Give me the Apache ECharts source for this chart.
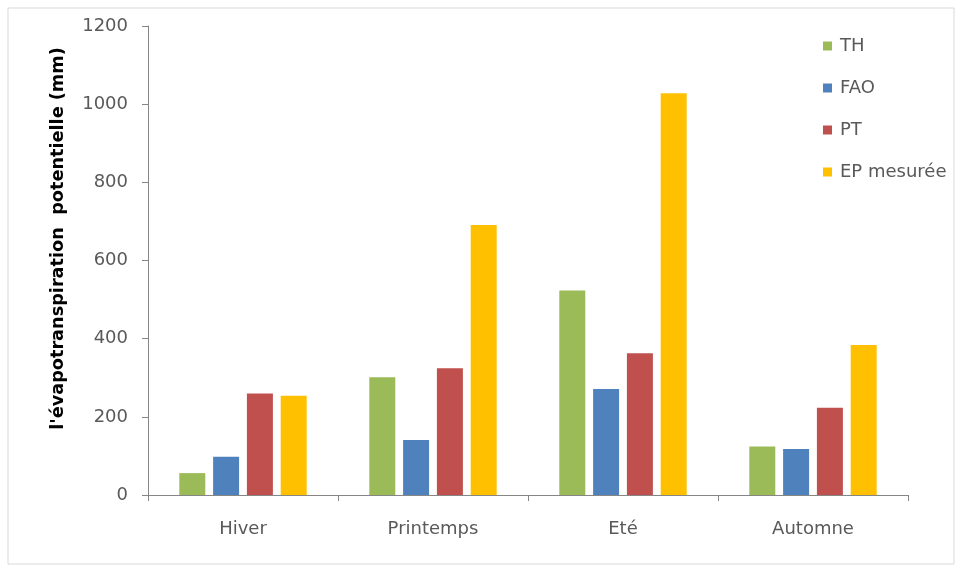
<!DOCTYPE html>
<html>
<head>
<meta charset="utf-8">
<script src="https://cdn.jsdelivr.net/npm/echarts@6/dist/echarts.min.js"></script>
<style>
  html, body { margin: 0; padding: 0; background: #fff; }
  #chart { width: 963px; height: 581px; }
</style>
</head>
<body>
<div id="chart"></div>
<script>
const seasons = ['Hiver', 'Printemps', 'Eté', 'Automne'];
const th = [56, 301, 523, 124];
const fao = [98, 141, 271, 118];
const pt = [260, 324, 363, 223];
const epMesuree = [254, 691, 1028, 384];

const font = '"DejaVu Sans", sans-serif';
const chart = echarts.init(document.getElementById('chart'));

const bar = (name, data, color) => ({
  name: name,
  type: 'bar',
  data: data,
  barWidth: 26,
  barGap: '30%',
  itemStyle: { color: color },
});

chart.setOption({
  animation: false,
  textStyle: { fontFamily: font },
  graphic: [
    {
      type: 'rect',
      shape: { x: 8, y: 8, width: 946, height: 556 },
      style: { fill: 'none', stroke: '#d9d9d9', lineWidth: 1 },
      silent: true,
    },
  ],
  grid: { left: 148, right: 55, top: 26, bottom: 86 },
  legend: {
    orient: 'vertical',
    left: 818,
    top: 32,
    itemGap: 24,
    itemWidth: 9,
    itemHeight: 9,
    icon: 'rect',
    textStyle: { color: '#595959', fontSize: 18, fontFamily: font, padding: [0, 0, 0, 3] },
    data: ['TH', 'FAO', 'PT', 'EP mesurée'],
  },
  xAxis: {
    type: 'category',
    data: seasons,
    axisLine: { lineStyle: { color: '#868686', width: 1 } },
    axisTick: { show: true, length: 6, lineStyle: { color: '#868686' } },
    axisLabel: { color: '#595959', fontSize: 18, margin: 25, fontFamily: font },
  },
  yAxis: {
    type: 'value',
    min: 0,
    max: 1200,
    interval: 200,
    name: "l'évapotranspiration  potentielle (mm)",
    nameLocation: 'middle',
    nameGap: 81,
    nameTextStyle: {
      color: '#000',
      fontSize: 17.7,
      fontWeight: 'bold',
      fontFamily: font,
      padding: [0, 0, 0, 44],
    },
    axisLine: { show: true, lineStyle: { color: '#868686', width: 1 } },
    axisTick: { show: true, length: 6, lineStyle: { color: '#868686' } },
    splitLine: { show: false },
    axisLabel: {
      color: '#595959',
      fontSize: 18,
      margin: 20,
      fontFamily: font,
      formatter: (v) => String(v),
    },
  },
  series: [
    bar('TH', th, '#9BBB59'),
    bar('FAO', fao, '#4F81BD'),
    bar('PT', pt, '#C0504D'),
    bar('EP mesurée', epMesuree, '#FFC000'),
  ],
});
</script>
</body>
</html>
